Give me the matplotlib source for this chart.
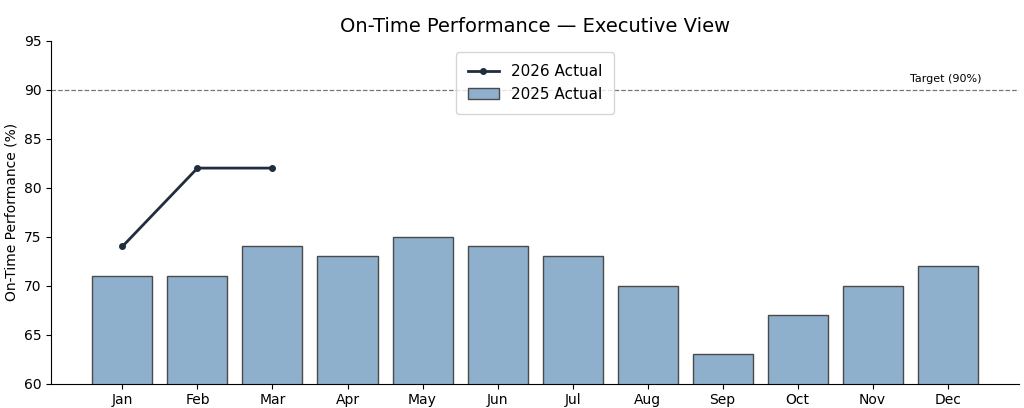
import matplotlib
matplotlib.use("Agg")
import matplotlib.pyplot as plt
import numpy as np

months = ["Jan", "Feb", "Mar", "Apr", "May", "Jun", "Jul", "Aug", "Sep", "Oct", "Nov", "Dec"]
actual_2025 = [71, 71, 74, 73, 75, 74, 73, 70, 63, 67, 70, 72]
actual_2026 = [74, 82, 82]
target = 90

fig, ax = plt.subplots(figsize=(10.24, 4.08), dpi=100)
x = np.arange(len(months))
ax.bar(x, actual_2025, width=0.8, color="#8fb0cc", edgecolor="#4a4a4a", linewidth=1.0,
       label="2025 Actual", zorder=2)
ax.plot(x[:len(actual_2026)], actual_2026, color="#1f2d3d", linewidth=2, marker="o",
        markersize=4, label="2026 Actual", zorder=3)
ax.axhline(target, color="#777777", linestyle="--", linewidth=0.9, zorder=1)
ax.text(len(months) - 0.55, target + 0.6, "Target (90%)", fontsize=8, ha="right", va="bottom")

ax.set_ylim(60, 95)
ax.set_xlim(-0.95, 11.95)
ax.set_xticks(x)
ax.set_xticklabels(months)
ax.set_ylabel("On-Time Performance (%)")
ax.set_title("On-Time Performance — Executive View", fontsize=14)
ax.spines["top"].set_visible(False)
ax.spines["right"].set_visible(False)
ax.legend(loc="upper center", fontsize=11, borderpad=0.8, bbox_to_anchor=(0.5, 0.99))

fig.subplots_adjust(left=0.05, right=0.995, top=0.9, bottom=0.06)
fig.savefig("out.png", dpi=100)
